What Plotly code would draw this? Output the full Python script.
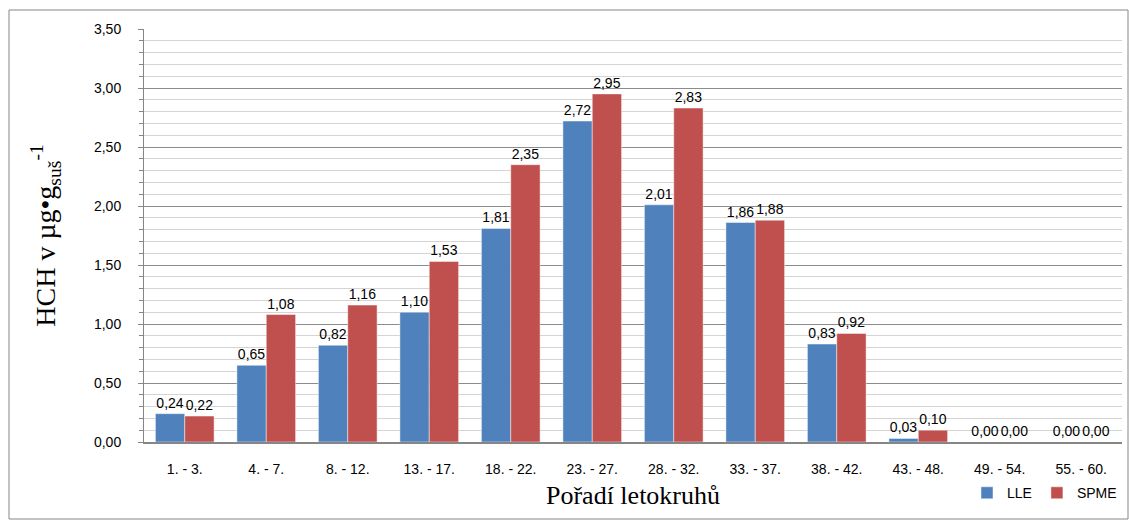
import plotly.graph_objects as go

# Tree-ring intervals and HCH content by extraction method
categories = ["1. - 3.", "4. - 7.", "8. - 12.", "13. - 17.", "18. - 22.", "23. - 27.",
              "28. - 32.", "33. - 37.", "38. - 42.", "43. - 48.", "49. - 54.", "55. - 60."]
lle = [0.24, 0.65, 0.82, 1.10, 1.81, 2.72, 2.01, 1.86, 0.83, 0.03, 0.00, 0.00]
spme = [0.22, 1.08, 1.16, 1.53, 2.35, 2.95, 2.83, 1.88, 0.92, 0.10, 0.00, 0.00]

sans = "Liberation Sans, Arial, sans-serif"
serif = "Liberation Serif, Times New Roman, serif"
label_font = dict(family=sans, size=14, color="#000000")
edge = dict(color="rgba(255,255,255,0.45)", width=1)

fig = go.Figure()
fig.add_trace(go.Bar(
    name="LLE", x=categories, y=lle, marker=dict(color="#4F81BD", line=edge),
    texttemplate="%{y:.2f}", textposition="outside", textfont=label_font,
    constraintext="none", cliponaxis=False,
))
fig.add_trace(go.Bar(
    name="SPME", x=categories, y=spme, marker=dict(color="#C0504D", line=edge),
    texttemplate="%{y:.2f}", textposition="outside", textfont=label_font,
    constraintext="none", cliponaxis=False,
))

fig.update_layout(
    width=1129, height=520,
    margin=dict(l=144, r=7, t=29, b=78),
    paper_bgcolor="white", plot_bgcolor="white",
    separators=", ",
    barmode="group", bargap=0.28, bargroupgap=0,
    font=label_font,
    showlegend=True,
    legend=dict(orientation="h", x=1.0, xanchor="right", y=-0.124, yanchor="middle",
                font=dict(family=sans, size=14), itemwidth=30, traceorder="normal"),
    xaxis=dict(
        showline=True, linecolor="#868686", linewidth=1.5,
        ticks="", ticklabelstandoff=13,
        tickfont=label_font,
        title=dict(text="Pořadí letokruhů", standoff=10,
                   font=dict(family=serif, size=26)),
    ),
    yaxis=dict(
        range=[0, 3.5], dtick=0.5, tickformat=".2f",
        showline=True, linecolor="#868686", linewidth=1,
        ticks="outside", ticklen=5, tickcolor="#868686",
        showgrid=True, gridcolor="#8c8c8c", gridwidth=1,
        zeroline=False,
        minor=dict(dtick=0.1, showgrid=True, gridcolor="#d4d4d4", gridwidth=1,
                   ticks="outside", ticklen=4, tickcolor="#868686"),
        tickfont=label_font, ticklabelstandoff=14,
        title=dict(text="HCH v µg•g<sub>suš</sub><sup>-1</sup>", standoff=30,
                   font=dict(family=serif, size=28)),
    ),
    shapes=[dict(type="rect", xref="paper", yref="paper",
                 x0=(9 - 144) / 978, x1=(1128 - 144) / 978,
                 y0=(442 - 519) / 413, y1=(442 - 10) / 413,
                 line=dict(color="#868686", width=1), layer="below")],
)

fig.write_html("out.html")
